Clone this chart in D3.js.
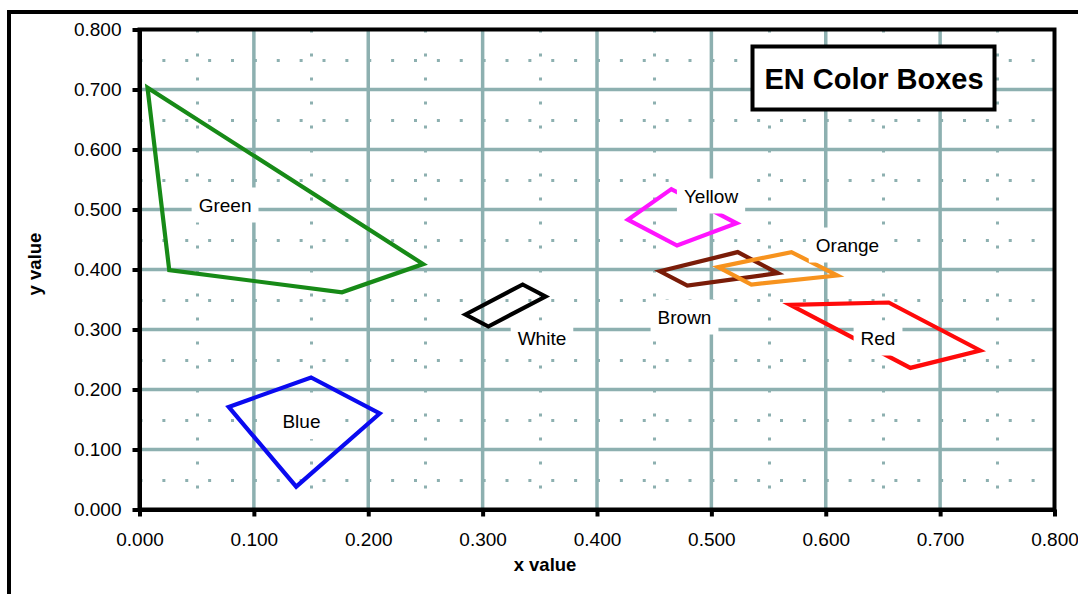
<!DOCTYPE html>
<html><head><meta charset="utf-8">
<script src="https://cdn.jsdelivr.net/npm/d3@7"></script>
<style>
body{margin:0;background:#fff}
svg{display:block}
text{font-family:"Liberation Sans",Arial,Helvetica,sans-serif;fill:#000}
</style>
</head><body>
<svg id="chart" width="1078" height="594"></svg>
<script>
// ---- data ----
const seriesNames  = ["Green","Blue","White","Brown","Orange","Red","Yellow"];
const seriesColors = ["#178a17","#0a0af0","#000000","#7a1c08","#f7931e","#ff0a0a","#ff14ff"];
const greenPts  = [[0.007,0.703],[0.026,0.399],[0.177,0.362],[0.248,0.409]];
const bluePts   = [[0.078,0.171],[0.150,0.220],[0.210,0.160],[0.137,0.038]];
const whitePts  = [[0.285,0.325],[0.335,0.375],[0.355,0.355],[0.305,0.305]];
const brownPts  = [[0.455,0.397],[0.523,0.429],[0.558,0.394],[0.479,0.373]];
const orangePts = [[0.506,0.404],[0.570,0.429],[0.610,0.390],[0.535,0.375]];
const redPts    = [[0.569,0.341],[0.655,0.345],[0.735,0.265],[0.674,0.236]];
const yellowPts = [[0.427,0.483],[0.465,0.534],[0.522,0.477],[0.470,0.440]];
const labelX = [0.0748,0.1416,0.3519,0.4765,0.6190,0.6457,0.4997];
const labelY = [0.5075,0.1463,0.2858,0.3208,0.4408,0.2858,0.5225];
const xTicks = [0,0.1,0.2,0.3,0.4,0.5,0.6,0.7,0.8];
const yTicks = [0,0.1,0.2,0.3,0.4,0.5,0.6,0.7,0.8];
const minorVals = [0.05,0.15,0.25,0.35,0.45,0.55,0.65,0.75];
const chartTitle = "EN Color Boxes";
const xTitle = "x value", yTitle = "y value";

const allPts = [greenPts,bluePts,whitePts,brownPts,orangePts,redPts,yellowPts];

// ---- layout ----
const svg = d3.select("#chart");
const x = d3.scaleLinear().domain([0,0.8]).range([139.5,1054.5]);
const y = d3.scaleLinear().domain([0,0.8]).range([509.5,29.5]);
const gridColor = "#8db0b0";
const px = v => Math.round(v) + 0.5;

// outer border
svg.append("rect").attr("x",9).attr("y",12).attr("width",1200).attr("height",800)
  .attr("fill","#fff").attr("stroke","#000").attr("stroke-width",4);

// plot background
svg.append("rect").attr("x",x(0)).attr("y",y(0.8)).attr("width",x(0.8)-x(0)).attr("height",y(0)-y(0.8))
  .attr("fill","#fff");

// minor dotted grid
const g = svg.append("g");
g.selectAll(".mh").data(minorVals).join("line")
  .attr("x1",x(0)).attr("x2",x(0.8)).attr("y1",d=>px(y(d))).attr("y2",d=>px(y(d)))
  .attr("stroke",gridColor).attr("stroke-width",3).attr("stroke-dasharray","3 19.875");
g.selectAll(".mv").data(minorVals).join("line")
  .attr("x1",d=>px(x(d))).attr("x2",d=>px(x(d))).attr("y1",y(0.8)).attr("y2",y(0))
  .attr("stroke",gridColor).attr("stroke-width",3).attr("stroke-dasharray","3 21");
// major grid
g.selectAll(".gh").data(yTicks.slice(1,-1)).join("line")
  .attr("x1",x(0)).attr("x2",x(0.8)).attr("y1",d=>y(d)).attr("y2",d=>y(d))
  .attr("stroke",gridColor).attr("stroke-width",3.5);
g.selectAll(".gv").data(xTicks.slice(1,-1)).join("line")
  .attr("x1",d=>x(d)).attr("x2",d=>x(d)).attr("y1",y(0.8)).attr("y2",y(0))
  .attr("stroke",gridColor).attr("stroke-width",3.5);

// polygons
const line = d3.line().x(d=>x(d[0])).y(d=>y(d[1])).curve(d3.curveLinearClosed);
svg.append("g").selectAll("path").data(allPts).join("path")
  .attr("d",d=>line(d)).attr("fill","none")
  .attr("stroke",(d,i)=>seriesColors[i]).attr("stroke-width",4.2).attr("stroke-linejoin","miter");

// labels with white boxes
const lg = svg.append("g");
seriesNames.forEach((name,i)=>{
  const cx = x(labelX[i]), cy = y(labelY[i]);
  const grp = lg.append("g");
  const r = grp.append("rect").attr("fill","#fff");
  const t = grp.append("text").attr("x",cx).attr("y",cy).attr("text-anchor","middle")
    .attr("dy","0.35em").attr("font-size",19).text(name);
  const w = t.node().getComputedTextLength();
  r.attr("x",cx-w/2-7).attr("y",cy-17.5).attr("width",w+14).attr("height",35);
});

// plot border
svg.append("rect").attr("x",x(0)).attr("y",y(0.8)).attr("width",x(0.8)-x(0)).attr("height",y(0)-y(0.8))
  .attr("fill","none").attr("stroke","#000").attr("stroke-width",4);

// axes
const fmt = d3.format(".3f");
const ax = svg.append("g").attr("transform",`translate(0,${y(0)})`)
  .call(d3.axisBottom(x).tickValues(xTicks).tickFormat(fmt).tickSize(7).tickSizeOuter(0).tickPadding(16));
const ay = svg.append("g").attr("transform",`translate(${x(0)},0)`)
  .call(d3.axisLeft(y).tickValues(yTicks).tickFormat(fmt).tickSize(7).tickSizeOuter(0).tickPadding(11));
[ax,ay].forEach(a=>{
  a.select(".domain").attr("stroke","#000").attr("stroke-width",4);
  a.selectAll(".tick line").attr("stroke","#000").attr("stroke-width",4);
  a.selectAll(".tick text").attr("font-size",19).attr("fill","#000")
    .style("font-family","'Liberation Sans',Arial,sans-serif");
});

// axis titles
svg.append("text").attr("x",545).attr("y",565).attr("dy","0.35em").attr("text-anchor","middle")
  .attr("font-size",18.5).attr("font-weight","bold").text(xTitle);
svg.append("text").attr("transform","translate(35,264) rotate(-90)").attr("dy","0.35em")
  .attr("text-anchor","middle").attr("font-size",18.5).attr("font-weight","bold").text(yTitle);

// title box
svg.append("rect").attr("x",752.5).attr("y",46.5).attr("width",242).attr("height",63)
  .attr("fill","#fff").attr("stroke","#000").attr("stroke-width",4);
svg.append("text").attr("x",874).attr("y",78.5).attr("dy","0.36em").attr("text-anchor","middle")
  .attr("font-size",29).attr("font-weight","bold").text(chartTitle);
</script>
</body></html>
